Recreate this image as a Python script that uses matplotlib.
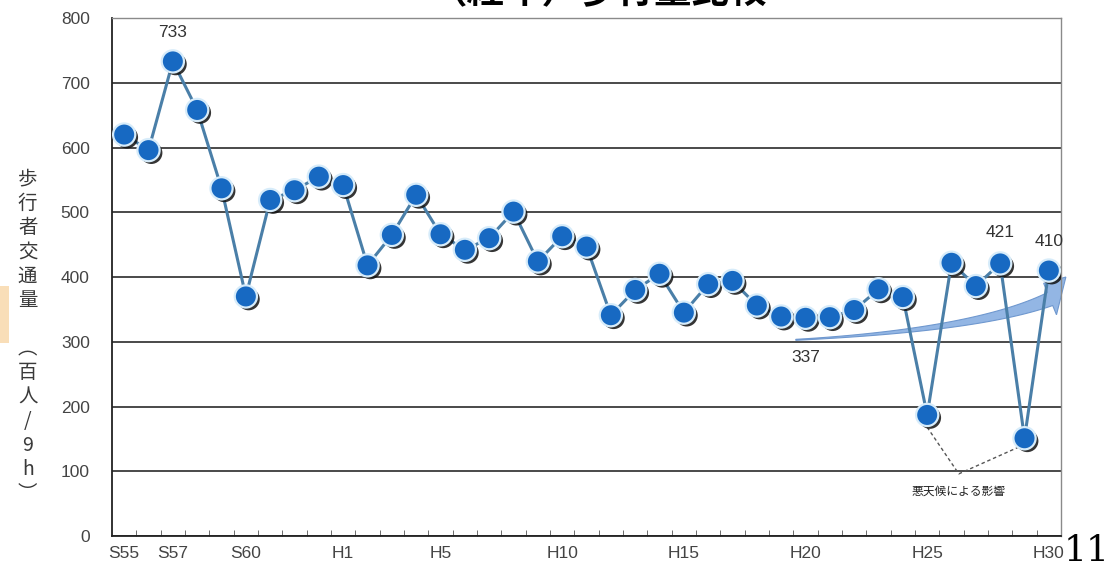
import numpy as np
import matplotlib.pyplot as plt
import matplotlib.patheffects as pe
from matplotlib.patches import Polygon, Rectangle

plt.rcParams['font.family'] = ['Liberation Sans', 'Noto Sans CJK JP', 'DejaVu Sans']

# -----------------------------
# DATA
# -----------------------------
years = (["S%d" % y for y in range(55, 64)] +
         ["H%d" % y for y in range(1, 31)])
traffic = [620, 596, 733, 658, 537, 370, 519, 534, 555, 542,
           418, 465, 527, 466, 442, 460, 501, 424, 463, 447,
           341, 380, 405, 345, 389, 394, 356, 339, 337, 338,
           349, 381, 369, 187, 422, 386, 421, 151, 410]
shown_labels = ["S55", "S57", "S60", "H1", "H5", "H10", "H15", "H20", "H25", "H30"]
callouts = {"S57": 733, "H20": 337, "H28": 421, "H30": 410}
weather_years = ["H25", "H29"]

y_label_chars = ["歩", "行", "者", "交", "通", "量", "", "︵", "百", "人", "/", "9", "h", "︶"]
note_text = "悪天候による影響"
title_text = "（経年）歩行量比較"

# -----------------------------
# FIGURE
# -----------------------------
fig = plt.figure(figsize=(11.08, 5.72), dpi=100)
ax = fig.add_axes([0.1011, 0.0629, 0.8565, 0.9056])

x = np.arange(len(years))
ax.set_xlim(-0.5, len(years) - 0.5)
ax.set_ylim(0, 800)

# grid + frame
ax.set_yticks(np.arange(0, 801, 100))
ax.yaxis.grid(True, color="#2b2b2b", linewidth=1.2)
ax.set_axisbelow(True)
for side in ["left", "bottom"]:
    ax.spines[side].set_color("#222222")
    ax.spines[side].set_linewidth(1.3)
for side in ["top", "right"]:
    ax.spines[side].set_color("#8a8a8a")
    ax.spines[side].set_linewidth(1.0)

ax.tick_params(axis="y", length=0, pad=16, labelsize=12.5, labelcolor="#444444")
ax.set_xticks([years.index(l) for l in shown_labels])
ax.set_xticklabels(shown_labels, fontsize=12.5, color="#444444",
                   family=["Liberation Sans Narrow", "Liberation Sans"])
ax.set_xticks(np.arange(0.5, len(years) - 1, 1.0), minor=True)
ax.tick_params(axis="x", which="major", length=0, pad=7)
ax.tick_params(axis="x", which="minor", direction="in", length=4, color="#555555")

# series
ax.plot(x, traffic, color="#4a7fa8", linewidth=2.2, zorder=3)
ax.plot(x, traffic, linestyle="none", marker="o", markersize=16,
        markerfacecolor="#1769c2", markeredgecolor="#d7ecfa", markeredgewidth=1.6,
        zorder=4,
        path_effects=[pe.withSimplePatchShadow(offset=(2, -2), shadow_rgbFace="#111111", alpha=0.85)])

# value callouts
offsets = {"S57": 45, "H20": -62, "H28": 48, "H30": 45}
for key, val in callouts.items():
    i = years.index(key)
    ax.text(i, traffic[i] + offsets[key], str(val), ha="center", va="center",
            fontsize=12.5, color="#333333")

# trend arrow (curved, widening)
fig.canvas.draw()
tr = ax.transData
p0 = tr.transform((years.index("H20") - 0.4, 303))
pc = tr.transform((years.index("H27"), 318))
p1 = tr.transform((len(years) - 0.95, 366))
tip = tr.transform((len(years) - 0.3, 400))
t = np.linspace(0, 1, 40)
curve = ((1 - t)[:, None] ** 2 * p0 + 2 * ((1 - t) * t)[:, None] * pc + (t ** 2)[:, None] * p1)
d = np.gradient(curve, axis=0)
n = np.stack([-d[:, 1], d[:, 0]], axis=1)
n /= np.linalg.norm(n, axis=1)[:, None]
w = 0.5 + 6.5 * t ** 1.5
upper = curve + n * w[:, None]
lower = curve - n * w[:, None]
dirv = (p1 - curve[-2]) / np.linalg.norm(p1 - curve[-2])
nv = np.array([-dirv[1], dirv[0]])
head = [p1 + nv * 17, tip, p1 - nv * 17]
pts = np.vstack([upper, head, lower[::-1]])
pts_data = tr.inverted().transform(pts)
ax.add_patch(Polygon(pts_data, closed=True, facecolor="#93b6e4", edgecolor="#6f98cf",
                     linewidth=0.8, zorder=2.5, clip_on=False))

# bad-weather note
a = years.index(weather_years[0])
b = years.index(weather_years[1])
vx = (a + b) / 2 - 0.7
ax.plot([a, vx, b - 0.2], [168, 96, 138], linestyle=(0, (2.5, 2)), color="#555555",
        linewidth=1.0, zorder=2)
ax.text(vx, 70, note_text, ha="center", va="center", fontsize=8.5, color="#222222",
        family=["Noto Sans CJK JP"])

# y label (vertical writing, one character per line)
fig.text(0.025, 0.412, "\n".join(y_label_chars), ha="center", va="center", fontsize=14,
         color="#3a3a3a", linespacing=1.2, family=["Noto Sans CJK JP", "DejaVu Sans"])

# cut-off title at top, page number
fig.text(0.54, 0.994, title_text, ha="center", va="baseline", fontsize=27,
         fontweight="bold", color="black", family=["Noto Sans CJK JP"])
fig.text(0.981, 0.037, "11", ha="center", va="center", fontsize=26, color="black",
         family=["DejaVu Serif"])
fig.add_artist(Rectangle((0, 0.40), 0.008, 0.10, transform=fig.transFigure,
                         facecolor="#f5c98a", edgecolor="none", alpha=0.6))

fig.savefig("out.png", dpi=100)
